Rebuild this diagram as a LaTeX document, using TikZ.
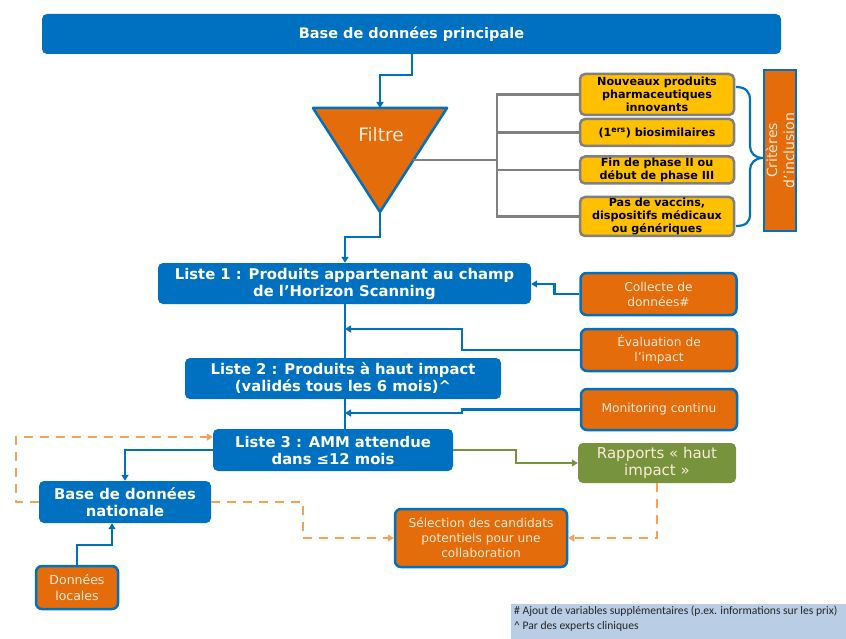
\documentclass[tikz,border=0pt]{standalone}
\usepackage{fontspec}
\setmainfont{DejaVu Sans}
\newfontfamily\notefont{Carlito}
\usetikzlibrary{arrows.meta,positioning,calc}
\definecolor{cblue}{HTML}{0070C0}
\definecolor{corange}{HTML}{E46C0A}
\definecolor{cyellow}{HTML}{FFC000}
\definecolor{cgray}{HTML}{808080}
\definecolor{cgreen}{HTML}{77933C}
\definecolor{cdash}{HTML}{F6A05A}
\definecolor{cnote}{HTML}{B9CDE5}
\definecolor{clighttext}{HTML}{FDEADA}
\tikzset{
  bluebox/.style={rectangle, rounded corners=5pt, fill=cblue, text=white, font=\bfseries\fontsize{14.8}{17}\selectfont, align=center, inner sep=0pt},
  yelbox/.style={rectangle, rounded corners=5pt, fill=cyellow, draw=cgray, line width=2.5pt, text=black, font=\bfseries\fontsize{11.2}{13.3}\selectfont, align=center, inner sep=0pt, minimum width=154pt},
  orbox/.style={rectangle, rounded corners=6pt, fill=corange, draw=cblue, line width=2.5pt, text=clighttext, font=\fontsize{12.2}{15}\selectfont, align=center, inner sep=0pt},
  bline/.style={draw=cblue, line width=2.5pt},
  barrow/.style={bline, -{Triangle[length=6pt,width=7pt]}},
  gline/.style={draw=cgray, line width=2.5pt},
  darrow/.style={draw=cdash, line width=2.5pt, dash pattern=on 9pt off 7pt, -{Triangle[length=6pt,width=7pt]}},
  garrow/.style={draw=cgreen, line width=2.5pt, -{Triangle[length=6pt,width=7pt]}},
}
\begin{document}
\begin{tikzpicture}[x=1pt,y=-1pt]
\useasboundingbox (0,0) rectangle (846,639);
% top
\node[bluebox, minimum width=739pt, minimum height=40pt, font=\bfseries\fontsize{14.5}{17}\selectfont] (top) at (411.5,34) {Base de donn\'ees principale};
% triangle filter
\coordinate (tl) at (313,108);
\coordinate (tr) at (447,108);
\coordinate (tip) at (380,212);
\coordinate (ttop) at (380,108);
\draw[fill=corange, draw=cblue, line width=2.5pt, line join=round] (tl) -- (tr) -- (tip) -- cycle;
\node[text=clighttext, font=\fontsize{18.5}{20}\selectfont] (filtre) at (381,135) {Filtre};
\draw[barrow] (top.south -| 412,0) |- (412,75) -| (ttop);
% criteria boxes
\node[yelbox, minimum height=41pt] (c1) at (657,94.5) {Nouveaux produits\\pharmaceutiques\\innovants};
\node[yelbox, minimum height=27pt] (c2) at (657,132.5) {(1\textsuperscript{ers}) biosimilaires};
\node[yelbox, minimum height=27pt] (c3) at (657,170) {Fin de phase II ou\\d\'ebut de phase III};
\node[yelbox, minimum height=39pt] (c4) at (657,216.5) {Pas de vaccins,\\dispositifs m\'edicaux\\ou g\'en\'eriques};
\coordinate (filt) at (413,160);
\coordinate (bar) at (497,160);
\draw[gline] (filt) -- (bar);
\draw[gline] (c1.west) -| (bar) |- (c4.west);
\draw[gline] (c2.west) -- (c2.west -| bar);
\draw[gline] (c3.west) -- (c3.west -| bar);
% brace
\draw[bline, line width=2.2pt] (736,87) .. controls (746,87) and (750,92) .. (750,100) -- (750,146) .. controls (750,153) and (755,158) .. (763,158) .. controls (755,158) and (750,163) .. (750,170) -- (750,214) .. controls (750,222) and (746,226) .. (736,226);
\node[rectangle, fill=corange, draw=cblue, line width=2.5pt, minimum width=32pt, minimum height=161pt, inner sep=0pt] (crit) at (780,150.5) {};
\node[rotate=90, text=clighttext, font=\fontsize{14}{17}\selectfont, align=center, inner sep=0pt] (critt) at (crit.center) {Crit\`eres\\d'inclusion};
% liste 1
\node[bluebox, minimum width=373pt, minimum height=41pt] (l1) at (344.5,283.5) {Liste 1 : Produits appartenant au champ\\de l'Horizon Scanning};
\coordinate (k1) at (345,237);
\draw[barrow] (tip) |- (k1) -- (l1.north -| k1);
% right orange boxes
\node[orbox, minimum width=156pt, minimum height=42pt] (coll) at (658.5,294) {Collecte de\\donn\'ees\#};
\node[orbox, minimum width=156pt, minimum height=42pt] (eval) at (659,350) {\'Evaluation de\\l'impact};
\node[orbox, minimum width=156pt, minimum height=41pt] (moni) at (659,409.5) {Monitoring continu};
\draw[barrow] (coll.west) -- ++(-25,0) |- (l1.east |- 0,284);
% liste 2
\node[bluebox, minimum width=316pt, minimum height=41pt] (l2) at (343,378.5) {Liste 2 : Produits \`a haut impact\\(valid\'es tous les 6 mois)\textasciicircum};
\draw[bline] (l1.south -| k1) -- (l2.north -| k1);
\coordinate (j1) at (345,329);
\coordinate (j2) at (345,413);
\draw[barrow] (eval.west) -| (462,329) -- (j1);
\draw[barrow] (moni.west) -| (462,413) -- (j2);
% liste 3
\node[bluebox, minimum width=240pt, minimum height=42pt] (l3) at (333,450) {Liste 3 : AMM attendue\\dans ≤12 mois};
\draw[bline] (l2.south -| k1) -- (l3.north -| k1);
% base nationale
\node[bluebox, minimum width=172pt, minimum height=42pt] (bn) at (125,502) {Base de donn\'ees\\nationale};
\draw[barrow] (l3.west) -| (bn.north);
% donnees locales
\node[orbox, minimum width=82pt, minimum height=43pt, font=\fontsize{12.5}{16}\selectfont] (dl) at (77,587.5) {Donn\'ees\\locales};
\draw[barrow] (dl.north) |- (112,545) -- (bn.south -| 112,0);
% rapports
\node[rectangle, rounded corners=5pt, fill=cgreen, text=clighttext, font=\fontsize{15}{17}\selectfont, align=center, minimum width=158pt, minimum height=40pt, inner sep=0pt] (rap) at (657,463) {Rapports « haut\\impact »};
\draw[garrow] (l3.east) -| (516,463) -- (rap.west);
% selection
\node[orbox, minimum width=172pt, minimum height=58pt] (sel) at (481,538) {S\'election des candidats\\potentiels pour une\\collaboration};
% dashed
\draw[darrow] (bn.west) -| (16,437) -- (l3.west |- 0,437);
\draw[darrow] (bn.east) -| (303,538) -- (sel.west);
\draw[darrow] (rap.south) |- (sel.east);
% footnote
\node[rectangle, fill=cnote, minimum width=335pt, minimum height=35pt, inner sep=0pt] (note) at (678.5,621.5) {};
\node[anchor=base west, font=\notefont\fontsize{11.6}{15}\selectfont, align=left, inner sep=0pt, text=black!85] (notet) at (514,629) {\# Ajout de variables suppl\'ementaires (p.ex. informations sur les prix)\\\textasciicircum{} Par des experts cliniques};
\end{tikzpicture}
\end{document}
